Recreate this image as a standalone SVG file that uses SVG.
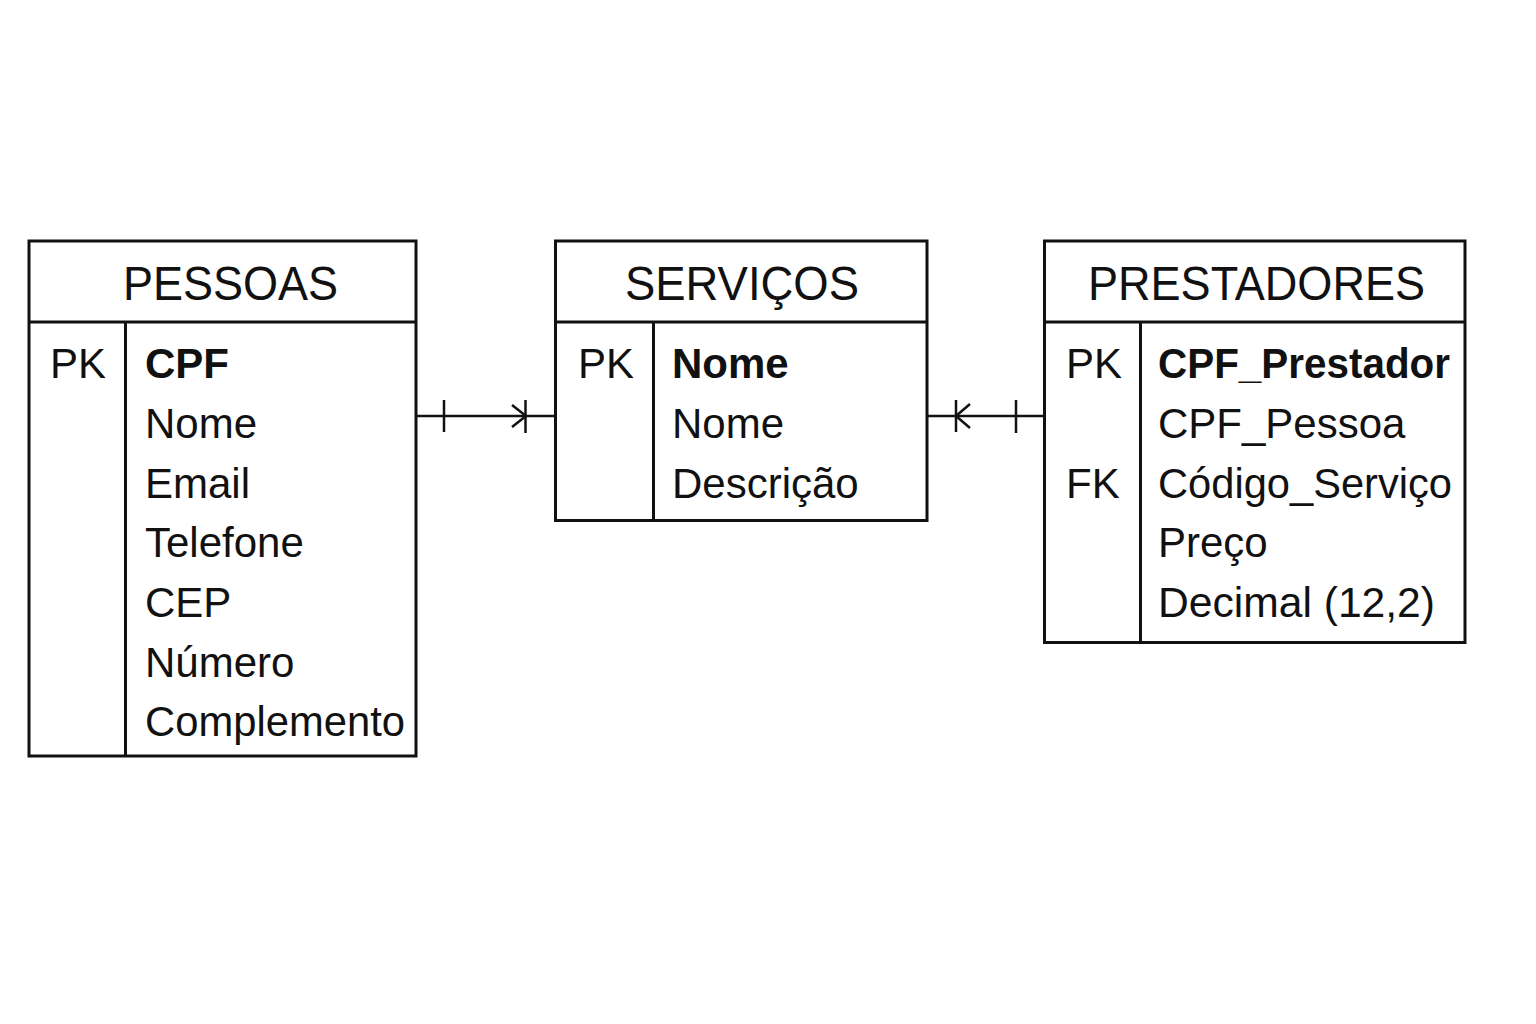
<svg xmlns="http://www.w3.org/2000/svg" width="1536" height="1024" viewBox="0 0 1536 1024">
  <style>
    .box { fill: #ffffff; stroke: #111111; stroke-width: 3; }
    .div { stroke: #111111; stroke-width: 3; fill: none; }
    .conn { stroke: #111111; stroke-width: 2.5; fill: none; }
    .title { font-family: "Liberation Sans", Arial, sans-serif; font-size: 48px; fill: #111111; }
    .txt { font-family: "Liberation Sans", Arial, sans-serif; font-size: 42px; fill: #111111; }
    .bold { font-weight: bold; }
  </style>
  <rect x="0" y="0" width="1536" height="1024" fill="#ffffff"/>

  <g id="pessoas">
    <rect class="box" x="29" y="241" width="387" height="515"/>
    <line class="div" x1="29" y1="322" x2="416" y2="322"/>
    <line class="div" x1="125.5" y1="322" x2="125.5" y2="756"/>
    <text class="title" x="123" y="300" textLength="215" lengthAdjust="spacingAndGlyphs">PESSOAS</text>
    <text class="txt" x="50" y="378">PK</text>
    <text class="txt bold" x="145" y="378">CPF</text>
    <text class="txt" x="145" y="438">Nome</text>
    <text class="txt" x="145" y="498">Email</text>
    <text class="txt" x="145" y="557">Telefone</text>
    <text class="txt" x="145" y="617">CEP</text>
    <text class="txt" x="145" y="677">Número</text>
    <text class="txt" x="145" y="736" textLength="260" lengthAdjust="spacingAndGlyphs">Complemento</text>
  </g>

  <g id="servicos">
    <rect class="box" x="555.5" y="241" width="371.5" height="279.5"/>
    <line class="div" x1="555.5" y1="322" x2="927" y2="322"/>
    <line class="div" x1="653.5" y1="322" x2="653.5" y2="520.5"/>
    <text class="title" x="625" y="300" textLength="234" lengthAdjust="spacingAndGlyphs">SERVIÇOS</text>
    <text class="txt" x="578" y="378">PK</text>
    <text class="txt bold" x="672" y="378">Nome</text>
    <text class="txt" x="672" y="438">Nome</text>
    <text class="txt" x="672" y="498">Descrição</text>
  </g>

  <g id="prestadores">
    <rect class="box" x="1044.5" y="241" width="420.5" height="401.5"/>
    <line class="div" x1="1044.5" y1="322" x2="1465" y2="322"/>
    <line class="div" x1="1140.5" y1="322" x2="1140.5" y2="642.5"/>
    <text class="title" x="1088" y="300" textLength="337" lengthAdjust="spacingAndGlyphs">PRESTADORES</text>
    <text class="txt" x="1066" y="378">PK</text>
    <text class="txt bold" x="1158" y="378" textLength="292" lengthAdjust="spacingAndGlyphs">CPF_Prestador</text>
    <text class="txt" x="1158" y="438">CPF_Pessoa</text>
    <text class="txt" x="1066" y="498">FK</text>
    <text class="txt" x="1158" y="498" textLength="294" lengthAdjust="spacingAndGlyphs">Código_Serviço</text>
    <text class="txt" x="1158" y="557">Preço</text>
    <text class="txt" x="1158" y="617" textLength="277" lengthAdjust="spacingAndGlyphs">Decimal (12,2)</text>
  </g>

  <g id="connectors">
    <g id="pessoas-servicos">
      <line class="conn" x1="417" y1="416" x2="555" y2="416"/>
      <line class="conn" x1="444" y1="400" x2="444" y2="432"/>
      <line class="conn" x1="525.5" y1="400" x2="525.5" y2="433"/>
      <polyline class="conn" points="512,405 526,416 512,427"/>
    </g>
    <g id="prestadores-servicos">
      <line class="conn" x1="927" y1="416" x2="1044" y2="416"/>
      <line class="conn" x1="956" y1="400" x2="956" y2="432"/>
      <polyline class="conn" points="970,404 956,416 970,428"/>
      <line class="conn" x1="1016" y1="400" x2="1016" y2="433"/>
    </g>
  </g>
</svg>
